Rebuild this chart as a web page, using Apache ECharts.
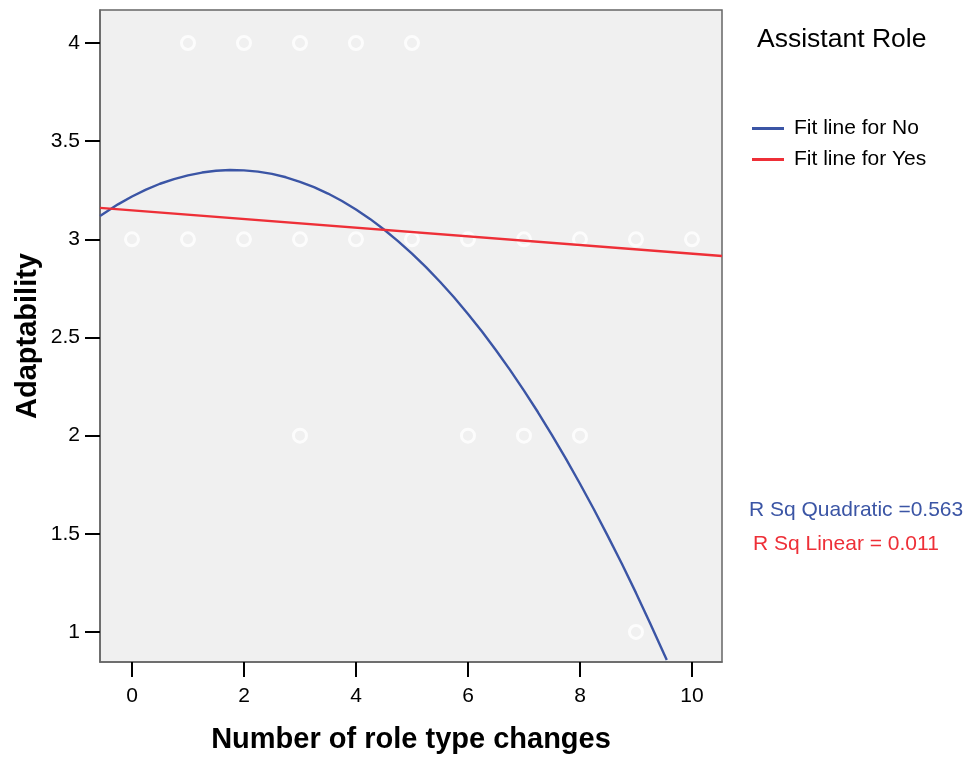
<!DOCTYPE html>
<html>
<head>
<meta charset="utf-8">
<script src="https://cdn.jsdelivr.net/npm/echarts@6/dist/echarts.min.js"></script>
<style>
html,body{margin:0;padding:0;background:#fff;}
#chart{width:971px;height:760px;}
</style>
</head>
<body>
<div id="chart"></div>
<script>
// ---- data ----
var xTicks = [0, 2, 4, 6, 8, 10];
var yTicks = [1, 1.5, 2, 2.5, 3, 3.5, 4];
var xRange = [-0.571, 10.536];
var yRange = [0.847, 4.168];

// observed points (x = number of role type changes, y = adaptability)
var pointsX = [1, 2, 3, 4, 5, 0, 1, 2, 3, 4, 5, 6, 7, 8, 9, 10, 3, 6, 7, 8, 9];
var pointsY = [4, 4, 4, 4, 4, 3, 3, 3, 3, 3, 3, 3, 3, 3, 3, 3, 2, 2, 2, 2, 1];

// fit line for "No" (quadratic)
var fitNoX = [-0.571, -0.25, 0, 0.25, 0.5, 0.75, 1, 1.25, 1.5, 1.75, 2, 2.25, 2.5, 2.75, 3, 3.25, 3.5, 3.75, 4, 4.25, 4.5, 4.75,
              5, 5.25, 5.5, 5.75, 6, 6.25, 6.5, 6.75, 7, 7.25, 7.5, 7.75, 8, 8.25, 8.5, 8.75, 9, 9.25, 9.55];
var fitNoY = [3.119, 3.178, 3.218, 3.253, 3.283, 3.307, 3.326, 3.340, 3.349, 3.353, 3.351, 3.345, 3.333, 3.316, 3.293, 3.266, 3.233, 3.195, 3.152, 3.104, 3.050, 2.991,
              2.927, 2.858, 2.784, 2.705, 2.620, 2.530, 2.435, 2.335, 2.229, 2.119, 2.003, 1.882, 1.755, 1.624, 1.487, 1.346, 1.199, 1.046, 0.857];

// fit line for "Yes" (linear)
var fitYesX = [-0.571, 10.536];
var fitYesY = [3.16, 2.915];

var legendTitle = 'Assistant Role';
var seriesNames = ['Fit line for No', 'Fit line for Yes'];
var rsqTexts = ['R Sq Quadratic =0.563', 'R Sq Linear = 0.011'];

var blue = '#3B55A5';
var red = '#EE2F37';
var font = '"Liberation Sans", Arial, sans-serif';

function zip(a, b) { return a.map(function (v, i) { return [v, b[i]]; }); }

var chart = echarts.init(document.getElementById('chart'), null, {renderer: 'canvas'});
chart.setOption({
  animation: false,
  backgroundColor: '#ffffff',
  textStyle: {fontFamily: font},
  grid: {
    left: 100, top: 10, right: 249, bottom: 98,
    show: true, backgroundColor: '#F0F0F0', borderColor: '#666', borderWidth: 1.5
  },
  title: [
    {text: legendTitle, left: 752, top: 21, textStyle: {fontFamily: font, fontSize: 26.5, fontWeight: 'normal', color: '#000'}},
    {text: rsqTexts[0], left: 744, top: 495, textStyle: {fontFamily: font, fontSize: 21, fontWeight: 'normal', color: blue}},
    {text: rsqTexts[1], left: 748, top: 529, textStyle: {fontFamily: font, fontSize: 21, fontWeight: 'normal', color: red}}
  ],
  legend: {
    data: seriesNames,
    orient: 'vertical',
    left: 747, top: 113,
    itemWidth: 32, itemHeight: 3, itemGap: 10,
    icon: 'rect',
    textStyle: {fontFamily: font, fontSize: 21, color: '#000', padding: [0, 0, 0, 5]}
  },
  xAxis: {
    type: 'value', min: xRange[0], max: xRange[1],
    name: 'Number of role type changes', nameLocation: 'middle', nameGap: 63,
    nameMoveOverlap: false,
    nameTextStyle: {fontFamily: font, fontSize: 29, fontWeight: 'bold', color: '#000'},
    splitLine: {show: false},
    axisLine: {show: true, onZero: false, lineStyle: {color: '#666', width: 1.5}},
    axisTick: {show: true, length: 15, customValues: xTicks, lineStyle: {color: '#000', width: 2}},
    axisLabel: {customValues: xTicks, margin: 24, fontSize: 21, color: '#000', fontFamily: font}
  },
  yAxis: {
    type: 'value', min: yRange[0], max: yRange[1],
    name: 'Adaptability', nameLocation: 'middle', nameGap: 58, nameRotate: 90,
    nameMoveOverlap: false,
    nameTextStyle: {fontFamily: font, fontSize: 29, fontWeight: 'bold', color: '#000'},
    splitLine: {show: false},
    axisLine: {show: true, onZero: false, lineStyle: {color: '#666', width: 1.5}},
    axisTick: {show: true, length: 15, customValues: yTicks, lineStyle: {color: '#000', width: 2}},
    axisLabel: {customValues: yTicks, margin: 20, fontSize: 21, color: '#000', fontFamily: font}
  },
  series: [
    {
      name: 'points', type: 'scatter', data: zip(pointsX, pointsY),
      symbol: 'circle', symbolSize: 13, z: 2,
      itemStyle: {color: 'rgba(0,0,0,0)', borderColor: '#ffffff', borderWidth: 3}
    },
    {
      name: seriesNames[0], type: 'line', data: zip(fitNoX, fitNoY),
      smooth: false, showSymbol: false, symbol: 'none', z: 3,
      lineStyle: {color: blue, width: 2.4}, itemStyle: {color: blue}
    },
    {
      name: seriesNames[1], type: 'line', data: zip(fitYesX, fitYesY),
      showSymbol: false, symbol: 'none', z: 3,
      lineStyle: {color: red, width: 2.4}, itemStyle: {color: red}
    }
  ]
});
</script>
</body>
</html>
